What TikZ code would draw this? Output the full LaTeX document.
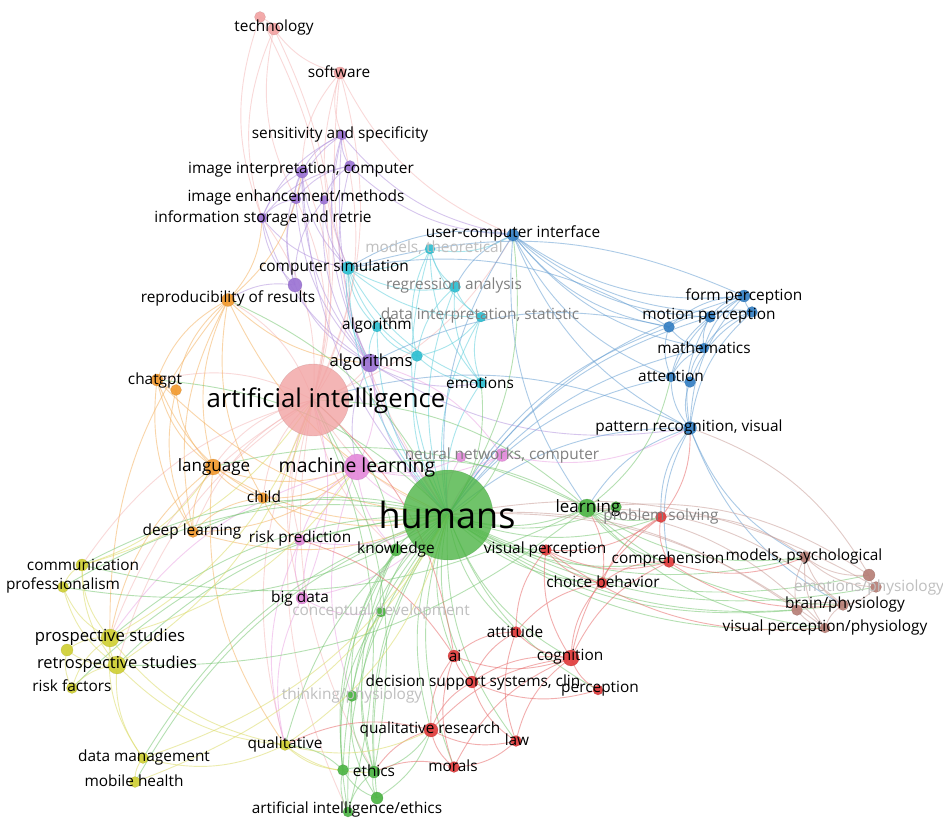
\documentclass[tikz,border=0pt]{standalone}
\usepackage{fontspec}
\setmainfont{Open Sans}
\pgfdeclarelayer{bg}
\pgfdeclarelayer{edges}
\pgfsetlayers{bg,edges,main}
\definecolor{cAI}{HTML}{F2A3A3}
\definecolor{cPu}{HTML}{9C74D4}
\definecolor{cCy}{HTML}{2FC0D2}
\definecolor{cBl}{HTML}{3580C4}
\definecolor{cOr}{HTML}{F29B30}
\definecolor{cPk}{HTML}{E48ADB}
\definecolor{cGr}{HTML}{4DB545}
\definecolor{cRd}{HTML}{E03C3C}
\definecolor{cYe}{HTML}{D0D035}
\definecolor{cBr}{HTML}{B77F77}
\tikzset{
  dot/.style 2 args={circle, inner sep=0pt, minimum size=#2, fill=#1, fill opacity=.92,
     draw=#1!75!black, draw opacity=.35, line width=.4pt},
  lab/.style={inner sep=0pt, text=black, font=\fontsize{15.4}{17}\selectfont},
  fade/.style={text=black!50},
  faint/.style={text=black!25},
  edgeline/.style={line width=.9pt, draw opacity=.55, #1!75},
}
\begin{document}
\begin{tikzpicture}[x=1pt,y=-1pt]
\useasboundingbox (0,0) rectangle (943,818);
\begin{pgfonlayer}{bg}\fill[white] (0,0) rectangle (943,818);\end{pgfonlayer}
% ---------------- keyword circles ----------------
\node[dot={cAI}{12}] (tech) at (274,29) {};
\node[dot={cAI}{11}] (tech2) at (260,17) {};
\node[dot={cAI}{12}] (soft) at (340,73) {};
\node[dot={cPu}{10}] (sens) at (342,135) {};
\node[dot={cPu}{12}] (imgint) at (302,172) {};
\node[dot={cPu}{11}] (imgint2) at (350,166) {};
\node[dot={cPu}{10}] (imgenh) at (296,199) {};
\node[dot={cPu}{9}] (pu3) at (324,200) {};
\node[dot={cPu}{10}] (info) at (262,218) {};
\node[dot={cPu}{14}] (pu4) at (295,285) {};
\node[dot={cCy}{13}] (compsim) at (348,268) {};
\node[dot={cCy}{10}] (modth) at (430,249) {};
\node[dot={cBl}{12}] (uci) at (513,235) {};
\node[dot={cCy}{11}] (regr) at (455,287) {};
\node[dot={cCy}{10}] (datai) at (481,317) {};
\node[dot={cCy}{10}] (algo1) at (377,327) {};
\node[dot={cPu}{18}] (algos) at (370,363) {};
\node[dot={cCy}{11}] (cy2) at (417,356) {};
\node[dot={cCy}{11}] (emot) at (481,383) {};
\node[dot={cBl}{12}] (formp) at (744,296) {};
\node[dot={cBl}{11}] (bl2) at (752,312) {};
\node[dot={cBl}{11}] (motp) at (710,317) {};
\node[dot={cBl}{11}] (bl3) at (669,327) {};
\node[dot={cBl}{10}] (math) at (704,348) {};
\node[dot={cBl}{10}] (att) at (671,377) {};
\node[dot={cBl}{11}] (bl4) at (690,382) {};
\node[dot={cBl}{13}] (patt) at (690,428) {};
\node[dot={cOr}{13}] (repro) at (228,300) {};
\node[dot={cOr}{12}] (chat) at (157,380) {};
\node[dot={cOr}{11}] (or2) at (176,390) {};
\node[dot={cAI}{72}, fill opacity=.8] (ai) at (313,400) {};
\node[dot={cOr}{16}] (lang) at (213,467) {};
\node[dot={cPk}{26}] (ml) at (357,467) {};
\node[dot={cPk}{10}] (pk2) at (461,457) {};
\node[dot={cPk}{13}] (nn) at (502,455) {};
\node[dot={cGr}{90}, fill opacity=.8] (hum) at (448,515) {};
\node[dot={cGr}{18}] (learn) at (587,508) {};
\node[dot={cGr}{11}] (gr2) at (616,507) {};
\node[dot={cRd}{11}] (probs) at (661,517) {};
\node[dot={cOr}{11}] (child) at (263,498) {};
\node[dot={cOr}{11}] (deep) at (193,532) {};
\node[dot={cPk}{11}] (riskp) at (300,540) {};
\node[dot={cGr}{12}] (know) at (396,550) {};
\node[dot={cRd}{11}] (visp) at (546,550) {};
\node[dot={cRd}{11}] (compr) at (669,562) {};
\node[dot={cBr}{11}] (modps) at (805,557) {};
\node[dot={cBr}{11}] (emph) at (876,587) {};
\node[dot={cBr}{12}] (br2) at (869,575) {};
\node[dot={cYe}{12}] (comm) at (82,565) {};
\node[dot={cYe}{11}] (prof) at (63,587) {};
\node[dot={cRd}{11}] (choice) at (602,583) {};
\node[dot={cPk}{12}] (bigd) at (302,598) {};
\node[dot={cGr}{10}] (concd) at (381,612) {};
\node[dot={cBr}{11}] (brain) at (843,605) {};
\node[dot={cBr}{11}] (br3) at (797,610) {};
\node[dot={cBr}{10}] (vpph) at (825,628) {};
\node[dot={cYe}{18}] (pros) at (110,638) {};
\node[dot={cYe}{12}] (ye2) at (67,650) {};
\node[dot={cYe}{18}] (retro) at (117,665) {};
\node[dot={cYe}{11}] (riskf) at (72,688) {};
\node[dot={cRd}{11}] (attit) at (516,632) {};
\node[dot={cRd}{12}] (aai) at (454,656) {};
\node[dot={cRd}{16}] (cogn) at (571,658) {};
\node[dot={cGr}{11}] (think) at (352,696) {};
\node[dot={cRd}{12}] (dss) at (472,682) {};
\node[dot={cRd}{10}] (perc) at (598,690) {};
\node[dot={cRd}{14}] (qualr) at (431,730) {};
\node[dot={cRd}{11}] (law) at (516,741) {};
\node[dot={cYe}{11}] (datam) at (143,758) {};
\node[dot={cYe}{11}] (qual) at (285,745) {};
\node[dot={cGr}{12}] (eth) at (374,772) {};
\node[dot={cGr}{11}] (gr3) at (343,770) {};
\node[dot={cRd}{11}] (morals) at (454,767) {};
\node[dot={cYe}{11}] (mobh) at (135,782) {};
\node[dot={cGr}{10}] (aieth) at (348,812) {};
\node[dot={cGr}{12}] (gr4) at (377,798) {};
% ---------------- labels ----------------
\node[lab] (Ltech) at (274,28) {technology};
\node[lab] (Lsoft) at (339,72) {software};
\node[lab] (Lsens) at (340,134) {sensitivity and specificity};
\node[lab] (Limgint) at (301,170) {image interpretation, computer};
\node[lab] (Limgenh) at (296,198) {image enhancement/methods};
\node[lab] (Linfo) at (263,218) {information storage and retrie};
\node[lab] (Lcompsim) at (334,268) {computer simulation};
\node[lab,faint] (Lmodth) at (434,248) {models, theoretical};
\node[lab] (Luci) at (513,233) {user-computer interface};
\node[lab,fade] (Lregr) at (454,286) {regression analysis};
\node[lab,fade] (Ldatai) at (480,316) {data interpretation, statistic};
\node[lab] (Lalgo1) at (377,326) {algorithm};
\node[lab,font=\fontsize{16.6}{18}\selectfont] (Lalgos) at (371,362) {algorithms};
\node[lab] (Lemot) at (480,383) {emotions};
\node[lab] (Lformp) at (744,296) {form perception};
\node[lab] (Lmotp) at (709,316) {motion perception};
\node[lab] (Lmath) at (704,348) {mathematics};
\node[lab] (Latt) at (671,376) {attention};
\node[lab] (Lpatt) at (689,427) {pattern recognition, visual};
\node[lab] (Lrepro) at (228,298) {reproducibility of results};
\node[lab] (Lchat) at (155,380) {chatgpt};
\node[lab,font=\fontsize{25.8}{30}\selectfont] (Lai) at (326,401) {artificial intelligence};
\node[lab,font=\fontsize{17}{19}\selectfont] (Llang) at (214,467) {language};
\node[lab,font=\fontsize{19.4}{22}\selectfont] (Lml) at (357,467) {machine learning};
\node[lab,fade] (Lnn) at (502,455) {neural networks, computer};
\node[lab,font=\fontsize{36}{40}\selectfont] (Lhum) at (447,515) {humans};
\node[lab,font=\fontsize{17}{19}\selectfont] (Llearn) at (588,508) {learning};
\node[lab,fade] (Lprobs) at (661,516) {problem solving};
\node[lab] (Lchild) at (264,497) {child};
\node[lab] (Ldeep) at (192,531) {deep learning};
\node[lab] (Lriskp) at (300,538) {risk prediction};
\node[lab] (Lknow) at (396,549) {knowledge};
\node[lab] (Lvisp) at (545,549) {visual perception};
\node[lab] (Lcompr) at (668,559) {comprehension};
\node[lab] (Lmodps) at (804,556) {models, psychological};
\node[lab,faint] (Lemph) at (869,587) {emotions/physiology};
\node[lab] (Lcomm) at (83,565) {communication};
\node[lab] (Lprof) at (63,585) {professionalism};
\node[lab] (Lchoice) at (603,582) {choice behavior};
\node[lab] (Lbigd) at (300,598) {big data};
\node[lab,faint] (Lconcd) at (381,611) {conceptual development};
\node[lab] (Lbrain) at (845,604) {brain/physiology};
\node[lab] (Lvpph) at (825,627) {visual perception/physiology};
\node[lab,font=\fontsize{16.7}{18}\selectfont] (Lpros) at (110,637) {prospective studies};
\node[lab,font=\fontsize{16.5}{18}\selectfont] (Lretro) at (117,664) {retrospective studies};
\node[lab] (Lriskf) at (72,686) {risk factors};
\node[lab] (Lattit) at (515,632) {attitude};
\node[lab] (Laai) at (455,656) {ai};
\node[lab] (Lcogn) at (570,657) {cognition};
\node[lab,faint] (Lthink) at (352,695) {thinking/physiology};
\node[lab] (Ldss) at (473,682) {decision support systems, clin};
\node[lab] (Lperc) at (600,689) {perception};
\node[lab] (Lqualr) at (430,729) {qualitative research};
\node[lab] (Llaw) at (517,740) {law};
\node[lab] (Ldatam) at (144,757) {data management};
\node[lab] (Lqual) at (285,744) {qualitative};
\node[lab] (Leth) at (374,771) {ethics};
\node[lab] (Lmorals) at (453,766) {morals};
\node[lab] (Lmobh) at (134,781) {mobile health};
\node[lab] (Laieth) at (347,809) {artificial intelligence/ethics};
% ---------------- connectors ----------------
\begin{pgfonlayer}{edges}
\foreach \a/\b in {ai/tech,ai/tech2,ai/soft,ai/sens,ai/imgint,ai/imgenh,ai/info,ai/repro,ai/chat,ai/lang,ai/child,ai/deep,ai/ml,ai/algos,ai/compsim,ai/riskp,ai/bigd,ai/hum,ai/uci,ai/know,ai/pros,ai/retro,ai/comm,tech/soft,tech/tech2,tech/imgenh,tech/info,soft/uci,soft/sens,soft/hum,soft/compsim,tech2/info,soft/imgint,ai/eth,ai/aieth,ai/qual}
  \draw[edgeline=cAI] (\a.center) to[bend right=20] (\b.center);
\foreach \a/\b in {sens/imgint,sens/imgint2,sens/algos,sens/compsim,sens/imgenh,imgint/imgenh,imgint/info,imgint/algos,imgint/pu4,imgint2/info,imgint2/algos,imgint2/pu3,imgenh/info,imgenh/algos,info/algos,info/pu4,pu4/algos,pu3/algos,pu4/repro,algos/hum,algos/ml,imgint/hum,sens/hum,pu3/compsim,imgint2/uci,sens/uci,imgint/compsim,info/compsim,imgenh/pu4,pu3/pu4,sens/info,imgint2/imgenh,algos/emot,algos/patt}
  \draw[edgeline=cPu] (\a.center) to[bend right=20] (\b.center);
\foreach \a/\b in {compsim/modth,compsim/algo1,compsim/algos,compsim/cy2,compsim/regr,compsim/datai,compsim/emot,modth/regr,modth/datai,modth/emot,modth/uci,regr/datai,regr/emot,regr/hum,datai/emot,datai/hum,algo1/algos,algo1/cy2,cy2/emot,cy2/hum,emot/hum,modth/hum,algo1/hum,cy2/datai,compsim/hum,modth/cy2,regr/cy2}
  \draw[edgeline=cCy] (\a.center) to[bend right=20] (\b.center);
\foreach \a/\b in {uci/formp,uci/motp,uci/bl3,uci/math,uci/att,uci/patt,uci/hum,uci/compsim,uci/bl2,formp/bl2,formp/motp,formp/bl3,formp/math,formp/att,formp/patt,bl2/motp,bl2/math,bl2/patt,bl2/bl4,motp/bl3,motp/math,motp/att,motp/patt,bl3/math,bl3/att,math/att,math/bl4,att/bl4,att/patt,bl4/patt,patt/hum,att/hum,math/hum,bl3/hum,motp/hum,formp/hum,patt/learn,patt/modps,patt/brain,patt/compr,patt/probs,formp/compsim,bl3/algos,patt/ai,uci/regr,uci/learn,bl3/compsim}
  \draw[edgeline=cBl] (\a.center) to[bend right=20] (\b.center);
\foreach \a/\b in {repro/chat,repro/or2,repro/lang,repro/child,repro/deep,repro/hum,repro/algos,repro/info,chat/or2,chat/lang,chat/child,chat/deep,or2/lang,or2/deep,lang/child,lang/deep,lang/hum,lang/ml,child/deep,child/hum,child/ml,deep/hum,chat/hum,lang/pros,lang/qual,child/riskp,deep/ml,repro/pros,repro/imgint}
  \draw[edgeline=cOr] (\a.center) to[bend right=20] (\b.center);
\foreach \a/\b in {ml/nn,ml/pk2,ml/riskp,ml/bigd,ml/hum,ml/algos,ml/know,riskp/bigd,bigd/hum,riskp/hum,nn/hum,pk2/hum,nn/algos,bigd/concd,riskp/qual,ml/pros,nn/patt,bigd/ai,ml/think,bigd/qual}
  \draw[edgeline=cPk] (\a.center) to[bend right=20] (\b.center);
\foreach \a/\b in {hum/learn,hum/gr2,hum/know,hum/concd,hum/think,hum/eth,hum/gr3,hum/aieth,hum/gr4,hum/visp,hum/compr,hum/choice,hum/cogn,hum/attit,hum/aai,hum/dss,hum/perc,hum/qualr,hum/law,hum/morals,hum/probs,hum/modps,hum/brain,hum/vpph,hum/emph,hum/br2,hum/br3,hum/comm,hum/prof,hum/pros,hum/retro,hum/riskf,hum/datam,hum/mobh,hum/qual,hum/deep,learn/gr2,learn/probs,learn/compr,learn/modps,learn/brain,learn/vpph,learn/att,learn/ml,learn/ai,know/concd,know/think,know/eth,know/aieth,know/ai,eth/gr3,eth/aieth,eth/gr4,gr3/aieth,gr3/gr4,think/eth,concd/eth,eth/qualr,gr4/qualr,gr3/qual,aieth/ai,eth/ai,retro/learn,comm/learn,prof/hum,concd/gr3,think/gr4,hum/nn,hum/emot,hum/uci,learn/lang,hum/chat,hum/repro,know/gr3}
  \draw[edgeline=cGr] (\a.center) to[bend right=20] (\b.center);
\foreach \a/\b in {visp/probs,visp/compr,visp/choice,visp/cogn,visp/attit,probs/compr,probs/choice,probs/cogn,compr/choice,compr/cogn,compr/modps,choice/cogn,choice/attit,attit/aai,attit/cogn,attit/dss,attit/law,aai/dss,aai/qualr,aai/cogn,aai/morals,cogn/perc,cogn/dss,cogn/law,cogn/morals,dss/qualr,dss/law,dss/perc,qualr/law,qualr/morals,qualr/eth,morals/law,morals/eth,qualr/qual,aai/ai,visp/vpph,compr/brain,cogn/qualr,aai/riskp,choice/learn,probs/patt}
  \draw[edgeline=cRd] (\a.center) to[bend right=20] (\b.center);
\foreach \a/\b in {comm/prof,comm/pros,comm/retro,prof/pros,prof/retro,pros/retro,pros/ye2,pros/riskf,retro/riskf,ye2/retro,retro/datam,pros/datam,datam/mobh,retro/qual,pros/qual,qual/eth,qual/qualr,datam/qual,comm/lang,comm/ai,pros/ai,retro/ai,qual/hum,datam/hum,pros/ml,qual/gr3,ye2/riskf,mobh/hum}
  \draw[edgeline=cYe] (\a.center) to[bend right=20] (\b.center);
\foreach \a/\b in {modps/emph,modps/br2,modps/brain,modps/br3,modps/vpph,br2/emph,brain/vpph,br3/vpph,brain/br3,brain/emph,br3/hum,vpph/hum,brain/learn,br2/learn,emph/hum,modps/probs,br2/patt,vpph/learn}
  \draw[edgeline=cBr] (\a.center) to[bend right=20] (\b.center);
\end{pgfonlayer}
\end{tikzpicture}
\end{document}
